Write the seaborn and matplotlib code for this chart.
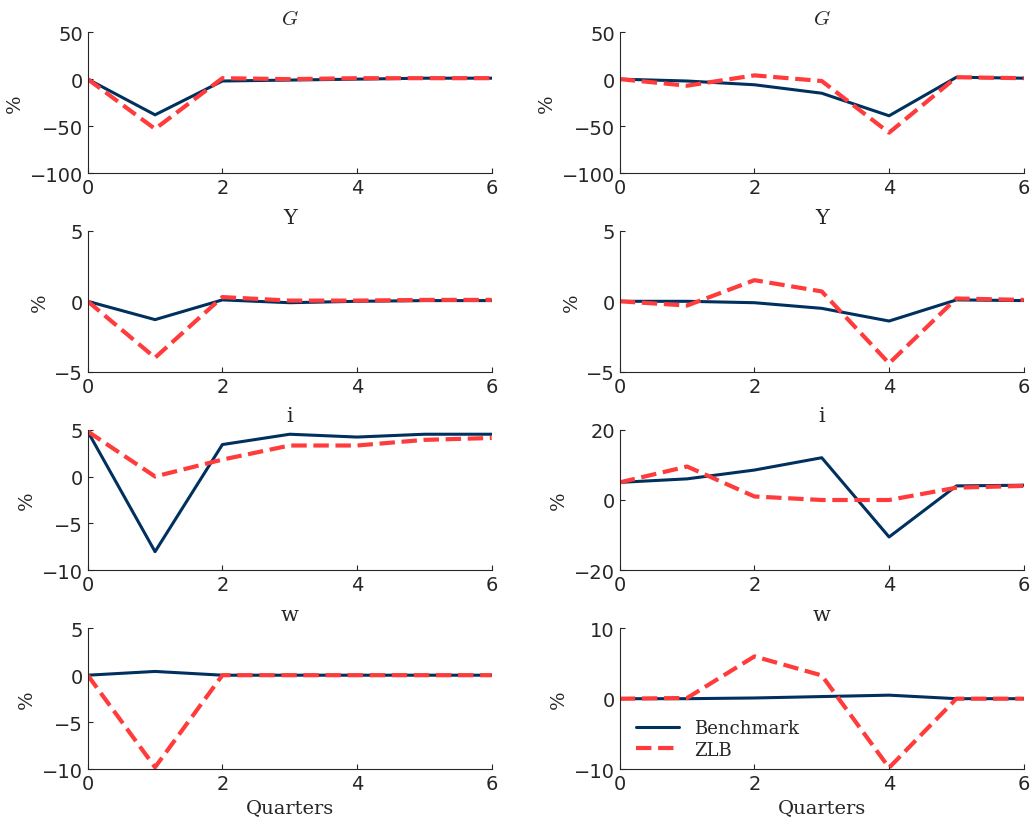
import numpy as np
import pandas as pd
import seaborn as sns
import matplotlib.pyplot as plt

quarters = [0, 1, 2, 3, 4, 5, 6]

g_bench_l = [0, -38, -2, -1, 0, 1, 1]
g_zlb_l = [0, -53, 1, 0, 1, 1, 1]
g_bench_r = [0, -2, -6, -15, -39, 2, 1]
g_zlb_r = [0, -7, 4, -2, -57, 2, 1]
y_bench_l = [0, -1.3, 0.1, -0.1, 0, 0.05, 0.05]
y_zlb_l = [0, -4.0, 0.3, 0.05, 0.05, 0.1, 0.1]
y_bench_r = [0, 0, -0.1, -0.5, -1.4, 0.1, 0.05]
y_zlb_r = [0, -0.3, 1.5, 0.7, -4.4, 0.2, 0.1]
i_bench_l = [4.8, -8, 3.4, 4.5, 4.2, 4.5, 4.5]
i_zlb_l = [4.8, 0, 1.8, 3.3, 3.3, 3.9, 4.1]
i_bench_r = [5, 6, 8.5, 12, -10.5, 4, 4.2]
i_zlb_r = [5, 9.5, 1, 0, 0, 3.5, 4]
w_bench_l = [0, 0.4, 0, 0, 0, 0, 0]
w_zlb_l = [0, -9.8, 0, 0, 0, 0, 0]
w_bench_r = [0, 0, 0.1, 0.3, 0.5, 0, 0]
w_zlb_r = [0, 0.1, 6, 3.3, -9.8, 0, 0]

titles = ["$G$", "Y", "i", "w"]
panels = [
    [(g_bench_l, g_zlb_l, (-100, 50), [-100, -50, 0, 50]),
     (g_bench_r, g_zlb_r, (-100, 50), [-100, -50, 0, 50])],
    [(y_bench_l, y_zlb_l, (-5, 5), [-5, 0, 5]),
     (y_bench_r, y_zlb_r, (-5, 5), [-5, 0, 5])],
    [(i_bench_l, i_zlb_l, (-10, 5), [-10, -5, 0, 5]),
     (i_bench_r, i_zlb_r, (-20, 20), [-20, 0, 20])],
    [(w_bench_l, w_zlb_l, (-10, 5), [-10, -5, 0, 5]),
     (w_bench_r, w_zlb_r, (-10, 10), [-10, 0, 10])],
]

sns.set_style("ticks")
plt.rcParams['font.family'] = ['DejaVu Sans']
plt.rcParams['mathtext.fontset'] = 'cm'
serif = 'DejaVu Serif'

fig, axes = plt.subplots(4, 2, figsize=(10.32, 8.29), dpi=100)
for r in range(4):
    for c in range(2):
        bench, zlb, ylim, yt = panels[r][c]
        ax = axes[r, c]
        df = pd.DataFrame({"q": quarters, "Benchmark": bench, "ZLB": zlb})
        sns.lineplot(data=df, x="q", y="Benchmark", ax=ax, color="#00305E", lw=2.2, label="Benchmark")
        sns.lineplot(data=df, x="q", y="ZLB", ax=ax, color="#FF3B3B", lw=3, ls="--", label="ZLB")
        ax.set_xlim(0, 6)
        ax.set_ylim(*ylim)
        ax.set_xticks([0, 2, 4, 6])
        ax.set_yticks(yt)
        ax.tick_params(labelsize=14, direction="in")
        ax.set_title(titles[r], fontsize=15, family=serif)
        ax.set_ylabel("%", fontsize=14, family=serif)
        ax.set_xlabel("Quarters" if r == 3 else "", fontsize=14, family=serif)
        sns.despine(ax=ax)
        if r == 3 and c == 1:
            ax.legend(loc="lower left", frameon=False, prop={"family": serif, "size": 13},
                      bbox_to_anchor=(0.0, -0.04), labelspacing=0.2, handlelength=2.4)
        else:
            ax.get_legend().remove()

fig.subplots_adjust(left=0.085, right=0.992, top=0.96, bottom=0.071, wspace=0.317, hspace=0.41)
plt.savefig("out.png")
